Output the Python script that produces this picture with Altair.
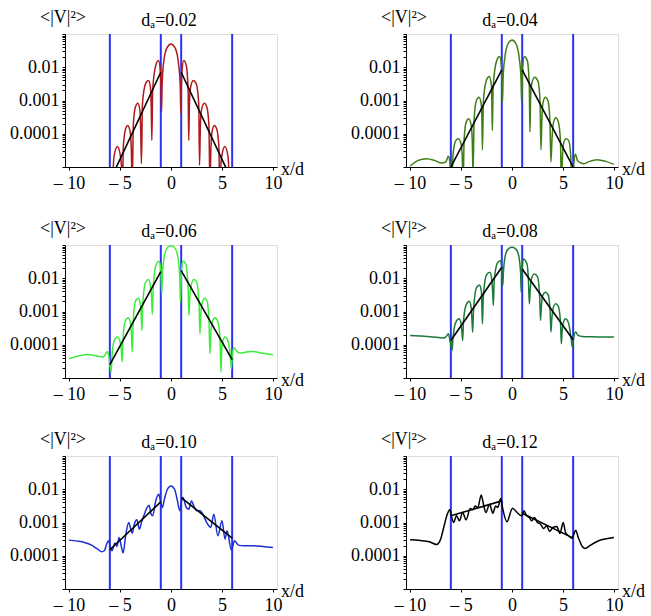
import math
import altair as alt
import pandas as pd

# ---- data: x/d and log10(<|V|^2>) ----
LABELS = ["0.02", "0.04", "0.06", "0.08", "0.10", "0.12"]
COLORS = ["#b0181c", "#3f7d16", "#3ced3c", "#1b7a3a", "#1b2fcf", "#000000"]

X1 = [-5.75, -5.6, -5.26, -5.0, -4.85, -4.77, -4.68, -4.45, -4.25, -4.0, -3.9, -3.8, -3.7, -3.5, -3.24, -3.05,
      -2.98, -2.9, -2.8, -2.5, -2.2, -2.0, -1.94, -1.88, -1.8, -1.5, -1.22, -1.05, -0.98, -0.93, -0.87, -0.7,
      -0.4, 0.0, 0.4, 0.7, 0.9, 0.97, 1.02, 1.08, 1.25, 1.5, 1.68, 1.74, 1.8, 1.9, 2.18, 2.48, 2.72, 2.8, 2.88,
      2.98, 3.27, 3.52, 3.72, 3.82, 3.92, 4.02, 4.25, 4.48, 4.7, 4.79, 4.88, 5.02, 5.28, 5.6, 5.75]
E1 = [-5.8, -4.7, -4.38, -4.6, -5.0, -5.8, -4.4, -3.85, -3.75, -3.95, -4.4, -5.6, -3.75, -3.2, -3.08, -3.3,
      -3.8, -4.9, -3.1, -2.5, -2.4, -2.65, -3.2, -4.2, -2.7, -1.95, -1.8, -2.1, -2.6, -3.35, -2.5, -1.8,
      -1.42, -1.3, -1.42, -1.8, -2.5, -3.4, -2.6, -2.1, -1.8, -1.95, -2.7, -4.2, -3.2, -2.65, -2.4, -2.5, -3.1, -4.95, -3.8,
      -3.3, -3.08, -3.2, -3.75, -5.6, -4.4, -3.95, -3.75, -3.85, -4.4, -5.8, -5.0, -4.6, -4.38, -4.7, -5.8]

X2 = [-10, -9.2, -8.4, -7.6, -6.9, -6.5, -6.25, -6.1, -6.0, -5.9, -5.78, -5.5, -5.26, -5.0, -4.88, -4.8, -4.7,
      -4.5, -4.25, -4.0, -3.9, -3.82, -3.72, -3.5, -3.24, -3.02, -2.95, -2.9, -2.8, -2.5, -2.22, -2.02, -1.98,
      -1.93, -1.85, -1.5, -1.2, -1.03, -0.97, -0.93, -0.87, -0.7, -0.4, 0.0, 0.4, 0.7, 0.88, 0.95, 1.0, 1.05,
      1.2, 1.5, 1.7, 1.76, 1.82, 1.9, 2.22, 2.55, 2.75, 2.84, 2.93, 3.02, 3.27, 3.52, 3.72, 3.82, 3.92, 4.02,
      4.28, 4.55, 4.75, 4.85, 4.95, 5.05, 5.3, 5.55, 5.75, 5.88, 5.98, 6.08, 6.22, 6.45, 7.05, 7.6, 8.36, 9.2, 10]
E2 = [-4.97, -4.8, -4.75, -4.8, -4.88, -4.85, -4.68, -4.85, -5.3, -5.7, -4.6, -4.2, -4.15, -4.3, -4.7, -5.6, -4.2,
      -3.65, -3.55, -3.75, -4.2, -5.2, -3.6, -3.0, -2.9, -3.1, -3.6, -4.48, -3.0, -2.38, -2.28, -2.55, -3.0,
      -3.9, -2.6, -1.8, -1.68, -2.0, -2.5, -3.05, -2.3, -1.7, -1.3, -1.18, -1.3, -1.7, -2.3, -3.1, -2.5, -2.0,
      -1.68, -1.8, -2.6, -3.95, -3.0, -2.55, -2.3, -2.42, -3.0, -4.48, -3.6, -3.1, -2.9, -3.0, -3.6, -4.85, -4.2, -3.75,
      -3.52, -3.65, -4.2, -5.6, -4.7, -4.3, -4.15, -4.2, -4.6, -5.7, -5.3, -4.85, -4.62, -4.82, -4.9, -4.83, -4.78, -4.83, -4.92]

X3 = [-10, -9.0, -8.2, -7.4, -6.7, -6.45, -6.25, -6.1, -5.95, -5.88, -5.8, -5.6, -5.25, -5.0, -4.88, -4.8, -4.72,
      -4.5, -4.18, -3.98, -3.88, -3.8, -3.72, -3.5, -3.2, -3.0, -2.92, -2.86, -2.78, -2.5, -2.22, -2.0, -1.9,
      -1.83, -1.75, -1.45, -1.18, -1.0, -0.95, -0.9, -0.84, -0.6, -0.3, 0.0, 0.3, 0.6, 0.86, 0.92, 0.98, 1.03,
      1.18, 1.45, 1.68, 1.76, 1.84, 1.95, 2.25, 2.52, 2.76, 2.84, 2.92, 3.02, 3.3, 3.55, 3.74, 3.82, 3.9, 4.02,
      4.31, 4.6, 4.82, 4.9, 4.98, 5.08, 5.3, 5.6, 5.84, 5.92, 6.0, 6.18, 6.4, 6.8, 7.4, 7.95, 8.8, 10]
E3 = [-4.42, -4.33, -4.29, -4.33, -4.37, -4.3, -4.2, -4.35, -4.7, -4.82, -4.4, -3.9, -3.77, -3.9, -4.15, -4.52, -3.9,
      -3.3, -3.19, -3.35, -3.7, -4.22, -3.4, -2.7, -2.6, -2.8, -3.1, -3.57, -2.85, -2.12, -2.04, -2.25, -2.6,
      -3.09, -2.3, -1.58, -1.49, -1.75, -2.1, -2.47, -1.9, -1.25, -1.06, -1.02, -1.06, -1.25, -1.95, -2.72, -2.2, -1.75,
      -1.49, -1.58, -2.3, -3.12, -2.6, -2.25, -2.04, -2.12, -2.85, -3.67, -3.1, -2.8, -2.6, -2.7, -3.4, -4.27, -3.7, -3.35,
      -3.19, -3.3, -3.9, -4.82, -4.15, -3.9, -3.77, -3.9, -4.4, -4.72, -4.35, -4.08, -4.18, -4.25, -4.22, -4.2, -4.25, -4.3]

X4 = [-10, -9, -8, -7.2, -6.7, -6.45, -6.24, -6.1, -5.95, -5.88, -5.8, -5.55, -5.2, -5.0, -4.92, -4.84, -4.76,
      -4.5, -4.18, -4.0, -3.93, -3.86, -3.78, -3.5, -3.2, -3.0, -2.95, -2.9, -2.82, -2.5, -2.16, -1.98, -1.9,
      -1.83, -1.75, -1.45, -1.15, -1.0, -0.95, -0.9, -0.84, -0.6, -0.3, 0.0, 0.3, 0.6, 0.85, 0.9, 0.96, 1.0,
      1.11, 1.45, 1.62, 1.7, 1.78, 1.88, 2.19, 2.5, 2.72, 2.8, 2.88, 2.98, 3.27, 3.55, 3.74, 3.82, 3.9, 4.0,
      4.28, 4.55, 4.76, 4.84, 4.92, 5.02, 5.26, 5.55, 5.82, 5.92, 6.02, 6.24, 6.5, 6.9, 8, 9, 10]
E4 = [-3.72, -3.74, -3.76, -3.78, -3.8, -3.75, -3.67, -3.85, -4.1, -4.17, -3.85, -3.35, -3.22, -3.35, -3.6, -3.87, -3.3,
      -2.8, -2.69, -2.9, -3.25, -3.62, -3.0, -2.3, -2.2, -2.4, -2.9, -3.37, -2.6, -1.9, -1.82, -2.05, -2.4,
      -2.82, -2.1, -1.55, -1.47, -1.7, -2.0, -2.22, -1.8, -1.25, -1.1, -1.07, -1.1, -1.25, -1.85, -2.42, -2.0, -1.7,
      -1.42, -1.55, -2.1, -2.77, -2.4, -2.05, -1.87, -1.95, -2.6, -3.27, -2.85, -2.55, -2.42, -2.5, -3.0, -3.62, -3.25, -2.95,
      -2.77, -2.85, -3.35, -3.97, -3.6, -3.35, -3.22, -3.35, -3.85, -4.07, -3.85, -3.62, -3.72, -3.75, -3.76, -3.77, -3.77]

X5 = [-10, -9.2, -8.5, -7.8, -7.3, -6.8, -6.55, -6.25, -6.1, -5.95, -5.8, -5.5, -5.3, -5.1, -4.85, -4.7, -4.45,
      -4.15, -3.95, -3.8, -3.6, -3.35, -3.1, -2.85, -2.55, -2.35, -2.15, -1.95, -1.8, -1.5, -1.2, -1.0, -0.85,
      -0.65, -0.35, 0.0, 0.35, 0.6, 0.88, 1.0, 1.18, 1.5, 1.75, 2.0, 2.3, 2.55, 2.85, 3.2, 3.5, 3.9, 4.2, 4.6,
      5.0, 5.3, 5.5, 5.92, 6.24, 6.6, 7.2, 8, 9, 10]
E5 = [-3.53, -3.56, -3.6, -3.68, -3.78, -3.88, -3.85, -3.6, -3.55, -3.75, -3.85, -3.62, -3.72, -3.45, -3.75, -3.92, -3.4,
      -3.0, -3.2, -3.32, -3.05, -2.92, -3.2, -2.95, -2.7, -2.55, -2.48, -2.75, -2.8, -2.35, -2.15, -2.4, -2.55,
      -2.3, -2.0, -1.9, -2.0, -2.3, -2.65, -2.4, -2.25, -2.55, -2.6, -2.35, -2.55, -2.65, -2.65, -2.8, -3.0, -3.15, -2.75, -3.4,
      -2.95, -3.5, -3.25, -3.83, -3.55, -3.68, -3.7, -3.7, -3.72, -3.75]

X6 = [-10, -9, -8.1, -7.4, -7.0, -6.7, -6.35, -6.1, -5.95, -5.72, -5.45, -5.15, -4.85, -4.5, -4.1, -3.85, -3.6,
      -3.35, -3.02, -2.8, -2.56, -2.2, -1.88, -1.6, -1.4, -1.1, -0.9, -0.5, 0.05, 0.5, 0.95, 1.18, 1.4, 1.7,
      1.95, 2.2, 2.5, 2.8, 3.1, 3.4, 3.7, 4.0, 4.4, 4.7, 5.03, 5.25, 5.55, 5.85, 6.0, 6.25, 6.5, 6.9, 7.2, 7.6, 8.5, 10]
E6 = [-3.52, -3.54, -3.58, -3.66, -3.5, -3.15, -2.75, -2.62, -2.8, -3.0, -2.8, -2.95, -2.7, -2.92, -2.58, -2.62, -2.5,
      -2.55, -2.17, -2.45, -2.7, -2.45, -2.72, -2.5, -2.55, -2.28, -2.6, -2.98, -2.57, -2.7, -2.8, -2.65, -2.78, -2.85,
      -2.95, -2.85, -3.0, -3.05, -3.18, -3.1, -3.27, -3.15, -3.12, -3.33, -3.0, -3.3, -3.4, -3.47, -3.4, -3.23, -3.45, -3.72, -3.78, -3.7, -3.55, -3.45]

CURVES_X = [X1, X2, X3, X4, X5, X6]
CURVES_E = [E1, E2, E3, E4, E5, E6]

# straight fits (x = -6, -1 | 1, 6)
FIT_X = [-6, -1, 1, 6]
FIT_SIDE = ["L", "L", "R", "R"]
FITS = [
    [-5.42, -2.15, -2.15, -5.42],
    [-5.0, -2.08, -2.08, -5.0],
    [-4.6, -1.8, -1.77, -4.45],
    [-3.87, -1.67, -1.72, -3.85],
    [-3.82, -2.38, -2.25, -3.47],
    [-2.8, -2.35, -2.72, -3.47],
]
BLUE_X = [-6, -1, 1, 6]

X_TICKS = [-10, -5, 0, 5, 10]

W, H = 212, 133
FONT = "Liberation Serif"
FS = 18

y_minor = []
for k in range(-5, -1):
    for m in range(1, 10):
        y_minor.append(round(k + math.log10(m), 6))
y_minor.append(-1)

xsc = alt.Scale(domain=[-10.4, 10.4], nice=False, zero=False)
ysc = alt.Scale(domain=[-5, -1], nice=False, zero=False)

xaxis = alt.Axis(values=X_TICKS, title=None, grid=False, labelFont=FONT, labelFontSize=FS,
                 labelColor="black", domainColor="black", tickColor="black", tickSize=3,
                 labelPadding=4, labelFlush=False, labelOverlap=False,
                 labelExpr="datum.value < 0 ? '\u2013 ' + abs(datum.value) : datum.label")
yaxis = alt.Axis(values=y_minor, title=None, grid=False, labelFont=FONT, labelFontSize=FS,
                 labelColor="black", domainColor="black", tickColor="black", tickSize=3,
                 labelPadding=3, labelFlush=False, labelOverlap=False,
                 labelExpr="abs(datum.value - round(datum.value)) < 0.001 && datum.value > -4.5 && datum.value < -1.5 ? "
                           "(round(datum.value) == -2 ? '0.01' : round(datum.value) == -3 ? '0.001' : '0.0001') : ''")


def panel(i):
    df = pd.DataFrame({"x": CURVES_X[i], "e": CURVES_E[i]})
    fit = pd.DataFrame({"x": FIT_X, "e": FITS[i], "side": FIT_SIDE})
    blue = pd.DataFrame({"x": BLUE_X})
    X = alt.X("x:Q", scale=xsc, axis=xaxis)
    Y = alt.Y("e:Q", scale=ysc, axis=yaxis)
    rules = alt.Chart(blue).mark_rule(color="#2b33f2", strokeWidth=2).encode(
        x=X, y=alt.value(0), y2=alt.value(H))
    curve = alt.Chart(df).mark_line(color=COLORS[i], strokeWidth=1.5, clip=True,
                                    interpolate="monotone").encode(x=X, y=Y)
    fitl = alt.Chart(fit).mark_line(color="black", strokeWidth=1.6, clip=True).encode(
        x=X, y=Y, detail="side:N")
    vlab = alt.Chart(pd.DataFrame({"t": ["<|V|\u00b2>"]})).mark_text(
        font=FONT, fontSize=FS, align="center", baseline="middle", color="black").encode(
        text="t:N", x=alt.value(-2), y=alt.value(-16))
    ttl = alt.Chart(pd.DataFrame({"t": ["d\u2090=" + LABELS[i]]})).mark_text(
        font=FONT, fontSize=FS, align="center", baseline="middle", color="black").encode(
        text="t:N", x=alt.value(104), y=alt.value(-13))
    xl = alt.Chart(pd.DataFrame({"t": ["x/d"]})).mark_text(
        font=FONT, fontSize=FS, align="left", baseline="middle", color="black").encode(
        text="t:N", x=alt.value(216), y=alt.value(136))
    return alt.layer(rules, curve, fitl, vlab, ttl, xl).properties(width=W, height=H)


chart = alt.concat(*[panel(i) for i in range(6)], columns=2,
                   spacing={"row": 78, "column": 129}, bounds="flush").properties(
    padding={"left": 9, "top": 8, "right": 0, "bottom": 0}
).configure_view(stroke=None).configure(background="white")

chart.save("out.html", embed_options={"renderer": "svg", "actions": False})
